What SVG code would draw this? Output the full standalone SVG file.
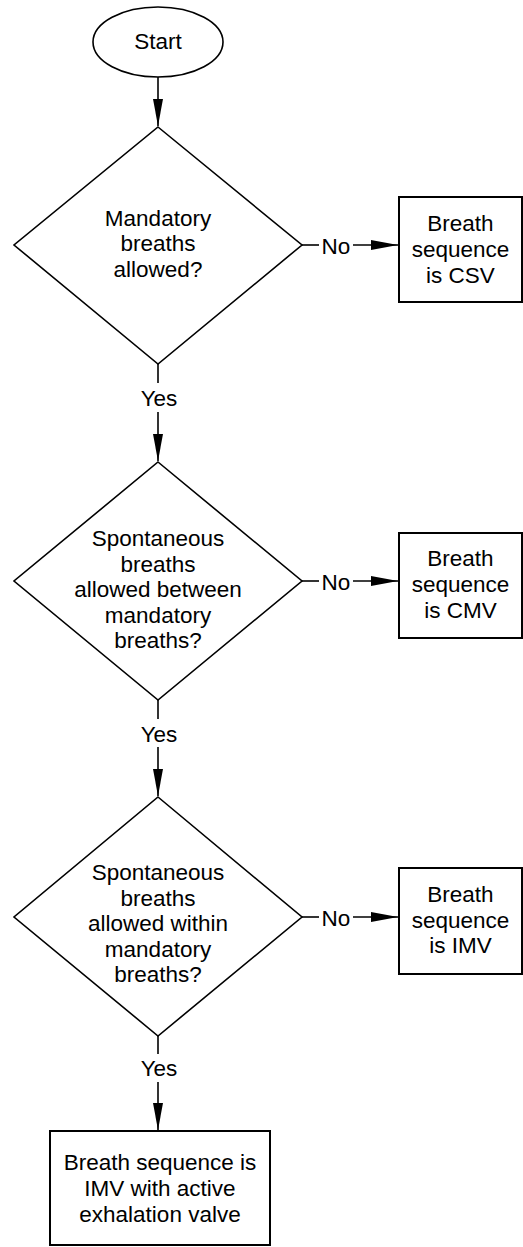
<svg xmlns="http://www.w3.org/2000/svg" width="523" height="1247" viewBox="0 0 523 1247">
<defs>
<marker id="ah" markerWidth="27" markerHeight="10" refX="27" refY="5" orient="auto" markerUnits="userSpaceOnUse">
<path d="M0,0 L27,5 L0,10 Z" fill="#000"/>
</marker>
<style>
.s{fill:#fff;stroke:#000;stroke-width:1.6}
.b{fill:#fff;stroke:#000;stroke-width:2}
.c{fill:none;stroke:#000;stroke-width:1.6}
text{font-family:"Liberation Sans",Arial,sans-serif;font-size:22.5px;fill:#000;text-anchor:middle}
</style>
</defs>
<rect width="523" height="1247" fill="#fff"/>
<g id="connectors">
<line class="c" x1="158" y1="77" x2="158" y2="126" marker-end="url(#ah)"/>
<line class="c" x1="302" y1="245" x2="319" y2="245"/>
<line class="c" x1="353" y1="245" x2="398" y2="245" marker-end="url(#ah)"/>
<text x="336" y="254">No</text>
<line class="c" x1="158" y1="364" x2="158" y2="383"/>
<text x="159" y="406">Yes</text>
<line class="c" x1="158" y1="412" x2="158" y2="461" marker-end="url(#ah)"/>
<line class="c" x1="302" y1="581" x2="319" y2="581"/>
<line class="c" x1="353" y1="581" x2="398" y2="581" marker-end="url(#ah)"/>
<text x="336" y="590">No</text>
<line class="c" x1="158" y1="700" x2="158" y2="719"/>
<text x="159" y="742">Yes</text>
<line class="c" x1="158" y1="747" x2="158" y2="796" marker-end="url(#ah)"/>
<line class="c" x1="302" y1="917" x2="319" y2="917"/>
<line class="c" x1="353" y1="917" x2="398" y2="917" marker-end="url(#ah)"/>
<text x="336" y="926">No</text>
<line class="c" x1="158" y1="1036" x2="158" y2="1054"/>
<text x="159" y="1076">Yes</text>
<line class="c" x1="158" y1="1082" x2="158" y2="1130" marker-end="url(#ah)"/>
</g>
<g id="start">
<ellipse class="s" cx="158" cy="42" rx="65" ry="35"/>
<text x="158" y="49">Start</text>
</g>
<g id="d1">
<polygon class="s" points="158,127 302,245 158,364 14,245"/>
<text x="158" y="225.5">Mandatory</text>
<text x="158" y="251">breaths</text>
<text x="158" y="276.5">allowed?</text>
</g>
<g id="csv">
<rect class="b" x="399" y="197" width="123" height="105"/>
<text x="460.5" y="231">Breath</text>
<text x="460.5" y="257">sequence</text>
<text x="460.5" y="283">is CSV</text>
</g>
<g id="d2">
<polygon class="s" points="158,462 302,581 158,700 14,581"/>
<text x="158" y="546">Spontaneous</text>
<text x="158" y="571.5">breaths</text>
<text x="158" y="597">allowed between</text>
<text x="158" y="622.5">mandatory</text>
<text x="158" y="648">breaths?</text>
</g>
<g id="cmv">
<rect class="b" x="399" y="533" width="123" height="105"/>
<text x="460.5" y="566">Breath</text>
<text x="460.5" y="592">sequence</text>
<text x="460.5" y="618">is CMV</text>
</g>
<g id="d3">
<polygon class="s" points="158,797 302,917 158,1036 14,917"/>
<text x="158" y="880">Spontaneous</text>
<text x="158" y="905.5">breaths</text>
<text x="158" y="931">allowed within</text>
<text x="158" y="956.5">mandatory</text>
<text x="158" y="982">breaths?</text>
</g>
<g id="imv">
<rect class="b" x="399" y="868" width="123" height="106"/>
<text x="460.5" y="902">Breath</text>
<text x="460.5" y="927.5">sequence</text>
<text x="460.5" y="953">is IMV</text>
</g>
<g id="imvaev">
<rect class="b" x="50" y="1131" width="220" height="114"/>
<text x="160" y="1170">Breath sequence is</text>
<text x="160" y="1196">IMV with active</text>
<text x="160" y="1222">exhalation valve</text>
</g>
</svg>
